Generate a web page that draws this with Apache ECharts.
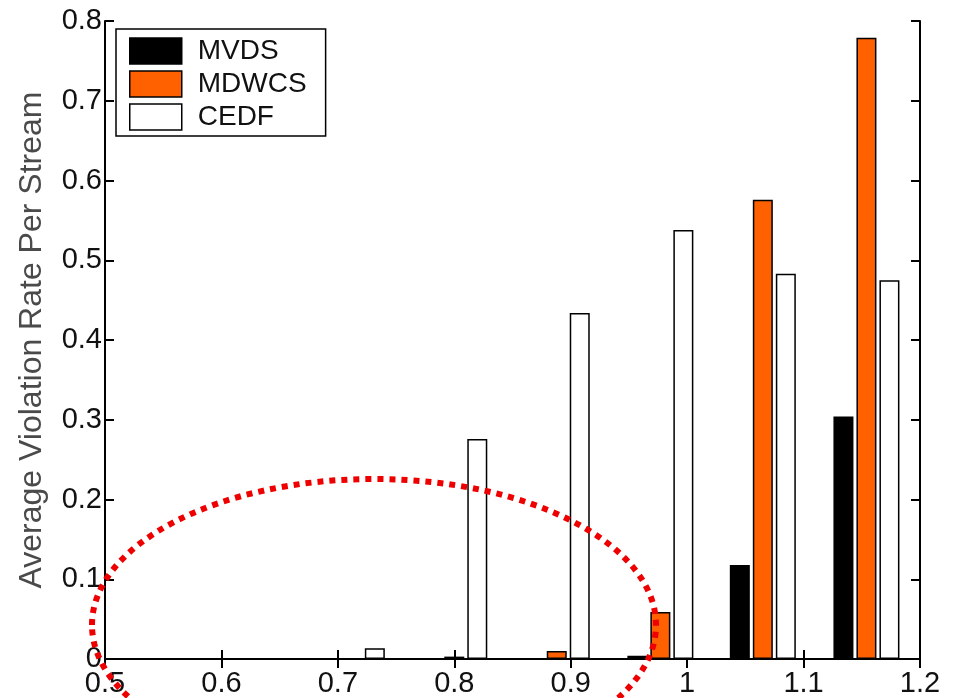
<!DOCTYPE html>
<html>
<head>
<meta charset="utf-8">
<script src="https://cdn.jsdelivr.net/npm/echarts@6/dist/echarts.min.js"></script>
<style>
  html, body { margin: 0; padding: 0; background: #fff; }
  #chart { width: 955px; height: 698px; }
</style>
</head>
<body>
<div id="chart"></div>
<script>
// load (x) at which each group of bars sits
const groupX = [0.712, 0.800, 0.888, 0.977, 1.065, 1.154];
const mvds = [0, 0, 0, 0.004, 0.118, 0.304];
const mdwcs = [0, 0.003, 0.010, 0.059, 0.576, 0.779];
const cedf = [0.0135, 0.276, 0.434, 0.538, 0.483, 0.475];

const font = 'Liberation Sans, Arial, sans-serif';
const chart = echarts.init(document.getElementById('chart'));

const toPairs = (vals) => vals.map((v, i) => [groupX[i], v]);

const barStyle = (color) => ({
  color: color,
  borderColor: '#000',
  borderWidth: 1.5
});

const axisLine = { show: true, lineStyle: { color: '#000', width: 2 } };
const tick = { show: true, inside: true, length: 9, lineStyle: { color: '#000', width: 2 } };

const option = {
  backgroundColor: '#fff',
  animation: false,
  grid: { left: 105, right: 35, top: 21, bottom: 37 },
  legend: {
    orient: 'vertical',
    left: 116,
    top: 29,
    itemWidth: 52,
    itemHeight: 26,
    itemGap: 5,
    padding: [8, 19, 5, 13],
    borderColor: '#000',
    borderWidth: 1.5,
    backgroundColor: '#fff',
    icon: 'rect',
    itemStyle: { borderColor: '#000', borderWidth: 1.5 },
    textStyle: { fontFamily: font, fontSize: 28, color: '#111', padding: [0, 0, 0, 11] },
    data: ['MVDS', 'MDWCS', 'CEDF']
  },
  xAxis: [
    {
      type: 'value',
      min: 0.5,
      max: 1.2,
      interval: 0.1,
      axisLine: axisLine,
      axisTick: tick,
      splitLine: { show: false },
      axisLabel: { fontFamily: font, fontSize: 29, color: '#111', margin: 10 }
    },
    {
      type: 'value',
      position: 'top',
      min: 0.5,
      max: 1.2,
      interval: 0.1,
      axisLine: axisLine,
      axisTick: tick,
      splitLine: { show: false },
      axisLabel: { show: false }
    }
  ],
  yAxis: [
    {
      type: 'value',
      min: 0,
      max: 0.8,
      interval: 0.1,
      axisLine: axisLine,
      axisTick: tick,
      splitLine: { show: false },
      axisLabel: { fontFamily: font, fontSize: 29, color: '#111', margin: 3 },
      name: 'Average Violation Rate Per Stream',
      nameLocation: 'middle',
      nameGap: 57,
      nameTextStyle: { fontFamily: font, fontSize: 32, color: '#4a4a4a' }
    },
    {
      type: 'value',
      position: 'right',
      min: 0,
      max: 0.8,
      interval: 0.1,
      axisLine: axisLine,
      axisTick: tick,
      splitLine: { show: false },
      axisLabel: { show: false }
    }
  ],
  series: [
    { name: 'MVDS', type: 'bar', data: toPairs(mvds), barWidth: 20, barGap: '15%', itemStyle: barStyle('#000') },
    { name: 'MDWCS', type: 'bar', data: toPairs(mdwcs), barWidth: 20, barGap: '15%', itemStyle: barStyle('#ff6000') },
    { name: 'CEDF', type: 'bar', data: toPairs(cedf), barWidth: 20, barGap: '15%', itemStyle: barStyle('#fff') }
  ],
  graphic: [
    {
      type: 'ellipse',
      shape: { cx: 374, cy: 625, rx: 282, ry: 146 },
      style: { fill: null, stroke: '#ee0000', lineWidth: 6, lineDash: [6, 6] },
      z: 100
    }
  ]
};

chart.setOption(option);
</script>
</body>
</html>
